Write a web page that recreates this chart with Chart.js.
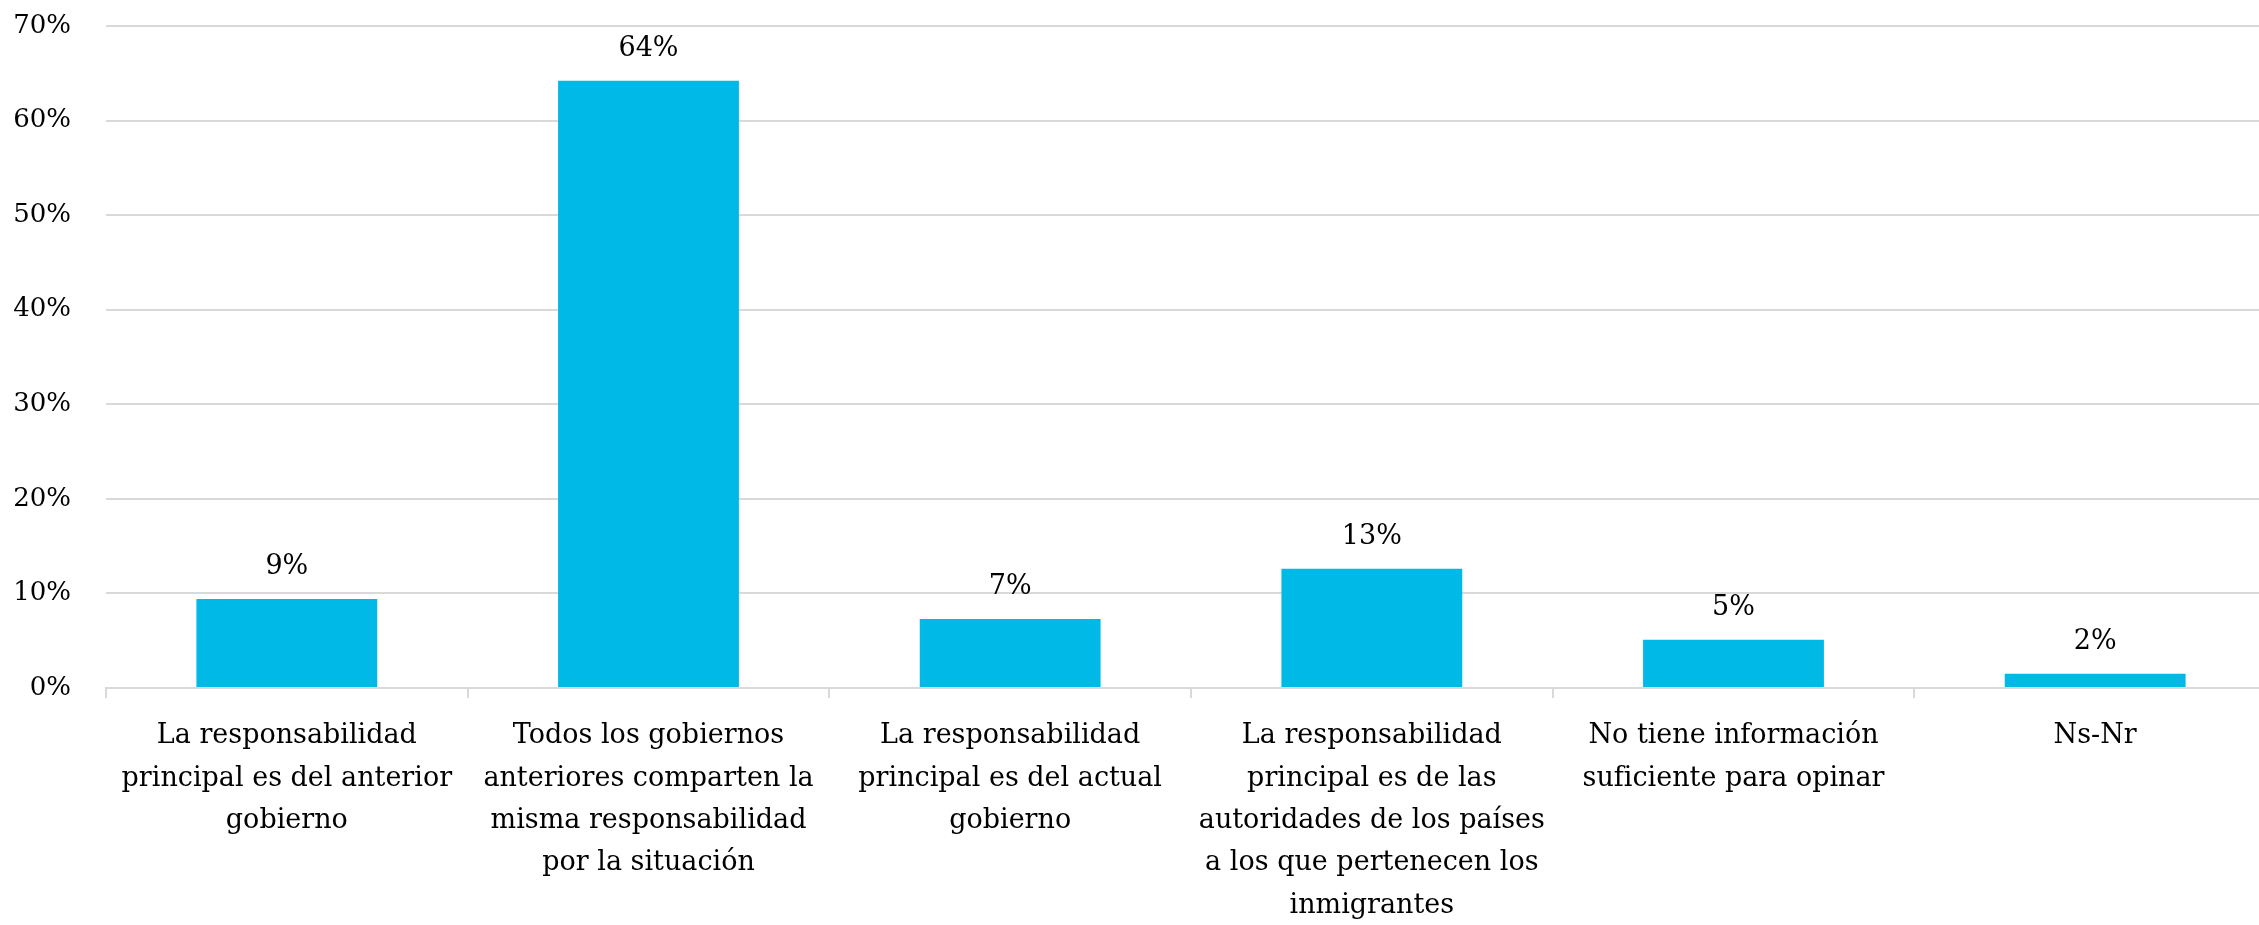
<!DOCTYPE html>
<html lang="es">
<head>
<meta charset="utf-8">
<title>Responsabilidad</title>
<script src="https://cdn.jsdelivr.net/npm/chart.js@4"></script>
<style>
  html, body { margin: 0; padding: 0; background: #fff; overflow: hidden; }
  /* the original plot runs a little past the right edge of the picture */
  .wrap { position: relative; width: 2276px; height: 925px; }
</style>
</head>
<body>
<div class="wrap"><canvas id="chart"></canvas></div>
<script>
// ---------- Data ----------
const categories = [
  ['La responsabilidad', 'principal es del anterior', 'gobierno'],
  ['Todos los gobiernos', 'anteriores comparten la', 'misma responsabilidad', 'por la situación'],
  ['La responsabilidad', 'principal es del actual', 'gobierno'],
  ['La responsabilidad', 'principal es de las', 'autoridades de los países', 'a los que pertenecen los', 'inmigrantes'],
  ['No tiene información', 'suficiente para opinar'],
  ['Ns-Nr']
];
const values = [9.4, 64.2, 7.3, 12.6, 5.1, 1.5];
const valueLabels = ['9%', '64%', '7%', '13%', '5%', '2%'];
const yTicks = [0, 10, 20, 30, 40, 50, 60, 70];

const FONT = "'DejaVu Serif', serif";
const GRID = '#d9d9d9';

// ---------- Value labels above bars ----------
const barLabels = {
  id: 'barLabels',
  afterDatasetsDraw(chart) {
    const ctx = chart.ctx;
    const meta = chart.getDatasetMeta(0);
    ctx.save();
    ctx.font = `27px ${FONT}`;
    ctx.fillStyle = '#000';
    ctx.textAlign = 'center';
    ctx.textBaseline = 'middle';
    meta.data.forEach((bar, i) => {
      ctx.fillText(valueLabels[i], bar.x, bar.y - 32);
    });
    ctx.restore();
  }
};

new Chart(document.getElementById('chart'), {
  type: 'bar',
  data: {
    labels: categories,
    datasets: [{
      data: values,
      backgroundColor: '#00b9e7',
      categoryPercentage: 0.5,
      barPercentage: 1
    }]
  },
  options: {
    responsive: true,
    maintainAspectRatio: false,
    animation: false,
    layout: { padding: { top: 26, right: 0, bottom: 0, left: 0 } },
    plugins: {
      legend: { display: false },
      tooltip: { enabled: false }
    },
    scales: {
      x: {
        grid: {
          display: true,
          drawOnChartArea: false,
          drawTicks: true,
          tickLength: 10,
          color: GRID,
          lineWidth: 2
        },
        border: { display: true, color: GRID, width: 2 },
        ticks: {
          color: '#000',
          font: { family: FONT, size: 27, lineHeight: 1.57 },
          padding: 17,
          maxRotation: 0,
          autoSkip: false
        },
        afterFit(scale) { scale.height = 237; }
      },
      y: {
        min: 0,
        max: 70,
        afterBuildTicks(scale) {
          scale.ticks = yTicks.map(v => ({ value: v }));
        },
        grid: { color: GRID, lineWidth: 2, drawTicks: false },
        border: { display: false },
        ticks: {
          color: '#000',
          font: { family: FONT, size: 26 },
          padding: 35,
          callback: (v) => `${v}%`
        },
        afterFit(scale) {
          // fixed gutter, and no extra room above the top tick
          scale.width = 106;
          scale.paddingTop = 0;
          scale.paddingBottom = 0;
        }
      }
    }
  },
  plugins: [barLabels]
});
</script>
</body>
</html>
